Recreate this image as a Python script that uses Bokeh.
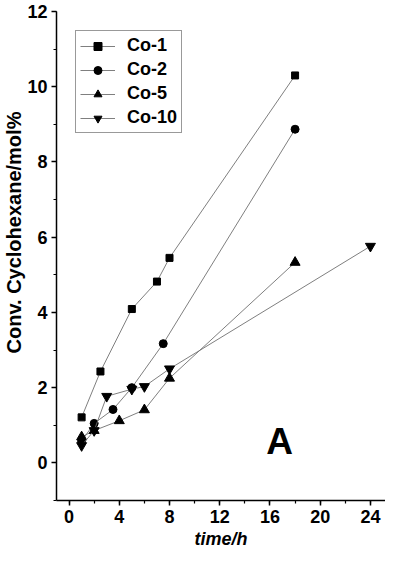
from bokeh.plotting import figure
from bokeh.models import Range1d, SingleIntervalTicker, Label, Legend, LegendItem, Title
from bokeh.embed import file_html
from bokeh.resources import INLINE

# data (time in h, conversion in mol%)
co1_t = [1, 2.5, 5, 7, 8, 18]
co1_y = [1.21, 2.43, 4.09, 4.82, 5.45, 10.30]
co2_t = [1, 2, 3.5, 5, 7.5, 18]
co2_y = [0.58, 1.05, 1.42, 2.00, 3.17, 8.87]
co5_t = [1, 2, 4, 6, 8, 18]
co5_y = [0.69, 0.86, 1.12, 1.41, 2.25, 5.33]
co10_t = [1, 2, 3, 5, 6, 8, 24]
co10_y = [0.46, 0.86, 1.77, 1.96, 2.03, 2.50, 5.76]
series_names = ["Co-1", "Co-2", "Co-5", "Co-10"]
x_ticks_interval = 4
y_ticks_interval = 2

FONT = "Liberation Sans"

p = figure(width=385, height=552, output_backend="svg", toolbar_location=None,
           x_range=Range1d(-1, 25.2), y_range=Range1d(-1, 12), title=None,
           min_border_left=55, min_border_right=0, min_border_top=11, min_border_bottom=52)
p.outline_line_color = None
p.xgrid.grid_line_color = None
p.ygrid.grid_line_color = None

p.xaxis.ticker = SingleIntervalTicker(interval=x_ticks_interval, num_minor_ticks=2)
p.yaxis.ticker = SingleIntervalTicker(interval=y_ticks_interval, num_minor_ticks=2)
for ax in (p.xaxis, p.yaxis):
    ax.axis_line_width = 1.5
    ax.axis_line_color = "black"
    ax.major_tick_line_width = 1.5
    ax.minor_tick_line_width = 1.2
    ax.major_tick_line_color = "black"
    ax.minor_tick_line_color = "black"
    ax.major_tick_in = 0
    ax.major_tick_out = 5
    ax.minor_tick_in = 0
    ax.minor_tick_out = 3
    ax.major_label_text_font = FONT
    ax.major_label_text_font_style = "bold"
    ax.major_label_text_font_size = "18px"
    ax.major_label_text_color = "black"
    ax.major_label_standoff = 4

p.xaxis.axis_label = "time/h"
p.xaxis.axis_label_text_font = FONT
p.xaxis.axis_label_text_font_style = "bold italic"
p.xaxis.axis_label_text_font_size = "18px"
p.xaxis.axis_label_text_color = "black"
p.xaxis.axis_label_standoff = 3

line_kw = dict(line_color="#707070", line_width=0.9)
data = [(co1_t, co1_y, "square", 7), (co2_t, co2_y, "circle", 8),
        (co5_t, co5_y, "triangle", 10), (co10_t, co10_y, "inverted_triangle", 10)]
items = []
for (t, y, marker, size), name in zip(data, series_names):
    r_line = p.line(t, y, **line_kw)
    r_pts = p.scatter(t, y, marker=marker, size=size, fill_color="black", line_color="black")
    items.append(LegendItem(label=name, renderers=[r_line, r_pts]))

legend = Legend(items=items, location="top_left", margin=19, padding=4, spacing=3,
                glyph_width=35, glyph_height=20, label_height=20, label_standoff=12,
                label_text_font=FONT, label_text_font_style="bold", label_text_font_size="18px",
                label_text_color="black", border_line_color="#333333", border_line_width=1.5,
                background_fill_alpha=1.0)
p.add_layout(legend)

p.add_layout(Label(x=15.7, y=0.57, text="A", text_font=FONT, text_font_style="bold",
                   text_font_size="37px", text_color="black", text_baseline="alphabetic"))

# y-axis title, starting ~147 px above the frame bottom (as in the reference)
p.add_layout(Title(text="Conv. Cyclohexane/mol%", align="left", offset=147, standoff=0,
                   text_font=FONT, text_font_style="bold", text_font_size="20px",
                   text_color="black"), "left")

open("out.html", "w").write(file_html(p, INLINE))
